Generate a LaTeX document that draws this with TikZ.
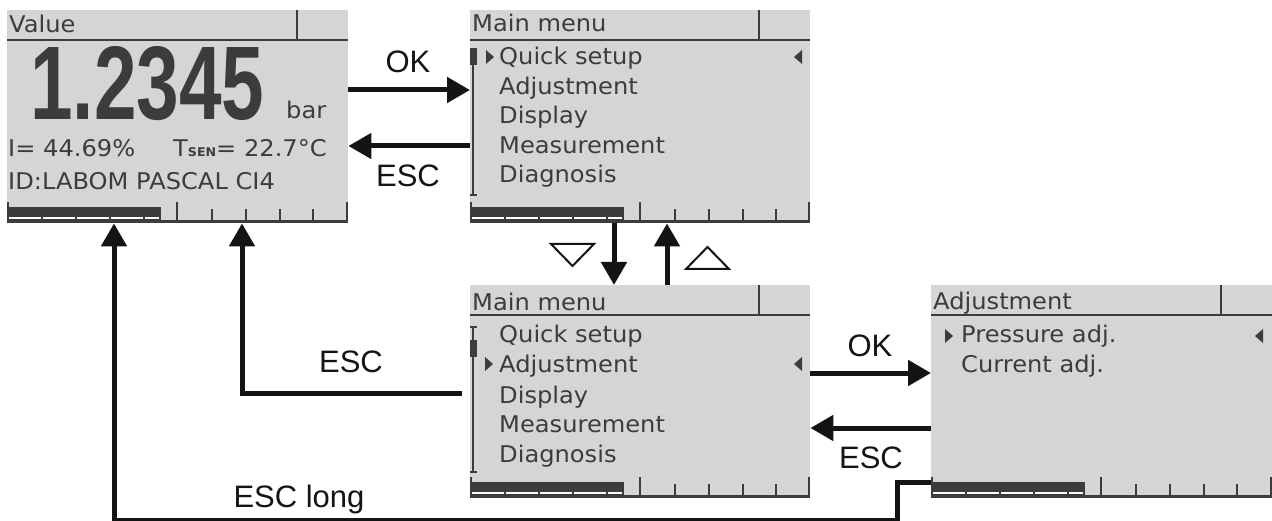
\documentclass[tikz,border=0pt]{standalone}
\usepackage{fontspec}
\setmainfont{Liberation Sans}
\newfontfamily\lcd[FakeStretch=1.05]{DejaVu Sans}
\usetikzlibrary{arrows.meta}
\definecolor{lcdbg}{HTML}{D4D6D5}
\definecolor{lcdfg}{HTML}{3A3C3E}
\definecolor{ink}{HTML}{131515}
\tikzset{
  screen/.style={fill=lcdbg, draw=none, inner sep=0pt, anchor=north west},
  lcdtext/.style={font=\lcd\fontsize{23}{23}\selectfont, text=lcdfg, anchor=base west, inner sep=0pt},
  conn/.style={draw=ink, line width=5pt, line join=miter, -{Triangle[length=23pt,width=25pt]}},
  lbl/.style={font=\fontsize{31}{31}\selectfont, text=ink, inner sep=0pt, anchor=base},
  tri/.style={draw=ink, line width=2pt, line join=miter},
}
% header: left, top, right
\newcommand\lcdhead[3]{%
  \fill[lcdfg] (#1,#2+29) rectangle (#3,#2+31);
  \fill[lcdfg] (#3-52,#2) rectangle (#3-50,#2+30);
}
% bottom bar: left, bottom, right
\newcommand\lcdbar[3]{%
  \fill[lcdfg] (#1,#2-16) rectangle (#1+154,#2);
  \foreach \a/\b in {2/34,36/68,70/102,104/136,138/152}
    \fill[white] (#1+\a,#2-6) rectangle (#1+\b,#2-4);
  \fill[lcdfg] (#1,#2-3) rectangle (#3,#2);
  \fill[lcdfg] (#1,#2-21) rectangle (#1+2,#2);
  \fill[lcdfg] (#1+169,#2-21) rectangle (#1+171,#2);
  \foreach \t in {204,238,272,305}
    \fill[lcdfg] (#1+\t,#2-14) rectangle (#1+\t+2,#2);
  \fill[lcdfg] (#3-2,#2-21) rectangle (#3,#2);
}
% right-pointing marker: left x, centre y
\newcommand\rmark[2]{\fill[lcdfg] (#1,#2-7) -- (#1+8,#2) -- (#1,#2+7) -- cycle;}
% left-pointing marker: right x, centre y
\newcommand\lmark[2]{\fill[lcdfg] (#1,#2-7) -- (#1-8,#2) -- (#1,#2+7) -- cycle;}
\begin{document}
\begin{tikzpicture}[x=1pt,y=-1pt]
\useasboundingbox[fill=white] (0,0) rectangle (1272,521);

% ---------- screens ----------
\node[screen, minimum width=341pt, minimum height=213pt] (value) at (7,10) {};
\node[screen, minimum width=340pt, minimum height=213pt] (mm1) at (470,10) {};
\node[screen, minimum width=340pt, minimum height=213pt] (mm2) at (470,285) {};
\node[screen, minimum width=341pt, minimum height=213pt] (adj) at (931,285) {};

% screen 1: value
\lcdhead{7}{10}{348}
\lcdbar{7}{223}{348}
\node[lcdtext] (t1) at (9,33) {Value};
\node[anchor=base west, inner sep=0pt, text=lcdfg] (big) at (30,120)
  {\resizebox{234pt}{73pt}{\bfseries 1.2345}};
\node[lcdtext] (unit) at (286,119) {bar};
\node[lcdtext] (cur) at (8,157) {I= 44.69\%};
\node[lcdtext] (tsen) at (173,157) {T{\fontsize{12}{12}\selectfont\bfseries SEN}= 22.7°C};
\node[lcdtext] (id) at (8,190) {ID:LABOM PASCAL CI4};

% screen 2: main menu (top)
\lcdhead{470}{10}{810}
\lcdbar{470}{223}{810}
\node[lcdtext] (h2) at (472,32) {Main menu};
\fill[lcdfg] (472,48) rectangle (474,195);
\fill[lcdfg] (470,194) rectangle (477,196);
\fill[lcdfg] (470,48) rectangle (477,65);
\rmark{486}{57}
\lmark{802}{57}
\node[lcdtext] (a1) at (499,65) {Quick setup};
\node[lcdtext] (a2) at (499,94.5) {Adjustment};
\node[lcdtext] (a3) at (499,124) {Display};
\node[lcdtext] (a4) at (499,153.5) {Measurement};
\node[lcdtext] (a5) at (499,183) {Diagnosis};

% screen 3: main menu (lower)
\lcdhead{470}{285}{810}
\lcdbar{470}{498}{810}
\node[lcdtext] (h3) at (472,311) {Main menu};
\fill[lcdfg] (472,327) rectangle (474,472);
\fill[lcdfg] (470,326) rectangle (477,328);
\fill[lcdfg] (470,471) rectangle (477,473);
\fill[lcdfg] (470,340) rectangle (477,357);
\rmark{485}{364}
\lmark{802}{364}
\node[lcdtext] (b1) at (499,343) {Quick setup};
\node[lcdtext] (b2) at (499,373) {Adjustment};
\node[lcdtext] (b3) at (499,403) {Display};
\node[lcdtext] (b4) at (499,432.5) {Measurement};
\node[lcdtext] (b5) at (499,462) {Diagnosis};

% screen 4: adjustment
\lcdhead{931}{285}{1272}
\lcdbar{931}{498}{1272}
\node[lcdtext] (h4) at (933,310) {Adjustment};
\rmark{945}{336}
\lmark{1263}{336}
\node[lcdtext] (c1) at (961,343) {Pressure adj.};
\node[lcdtext] (c2) at (961,373) {Current adj.};

% ---------- connectors ----------
\draw[conn] (value.east |- 0,90) -- (mm1.west |- 0,90);
\draw[conn] (mm1.west |- 0,146) -- (value.east |- 0,146);
\node[lbl] (okA) at (408,73) {OK};
\node[lbl] (escA) at (408,187) {ESC};

\draw[conn] (mm1.south -| 614,0) -- (mm2.north -| 614,0);
\draw[conn] (mm2.north -| 667,0) -- (mm1.south -| 667,0);
\draw[tri] (551,244) -- (594,244) -- (572.5,266) -- cycle;
\draw[tri] (686,269) -- (729,269) -- (707.5,247) -- cycle;

\coordinate (escB0) at (462,393);
\draw[conn] (escB0) -| (value.south -| 242,0);
\node[lbl] (escB) at (351,373) {ESC};

\draw[conn] (mm2.east |- 0,373) -- (adj.west |- 0,373);
\draw[conn] (adj.west |- 0,428) -- (mm2.east |- 0,428);
\node[lbl] (okC) at (870,356) {OK};
\node[lbl] (escC) at (871,468) {ESC};

\draw[conn] (adj.west |- 0,482) -- (897,482) -- (897,520) -| (value.south -| 114,0);
\node[lbl] (escL) at (299,507) {ESC long};
\end{tikzpicture}
\end{document}
